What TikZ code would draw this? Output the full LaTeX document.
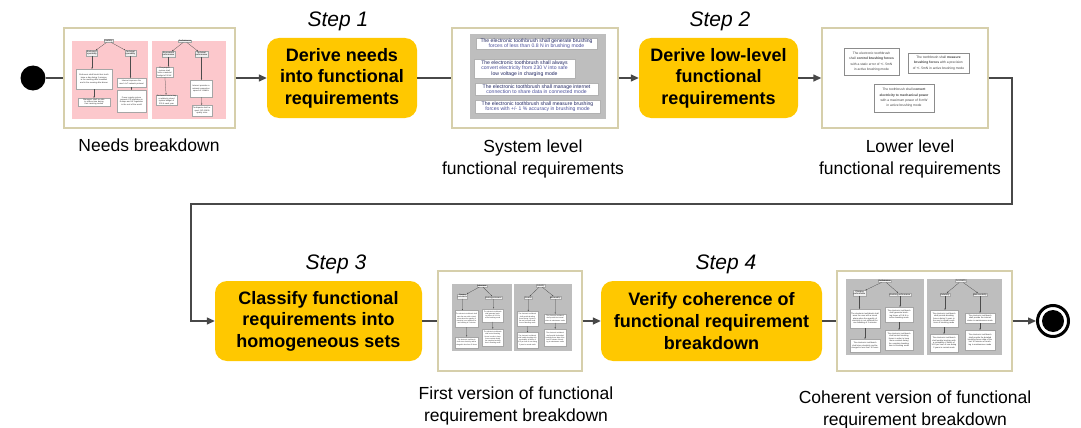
\documentclass[tikz,border=0pt]{standalone}
\usepackage{fontspec}
\setmainfont{Liberation Sans}
\usetikzlibrary{arrows.meta,calc}

\definecolor{stepfill}{HTML}{FFC800}
\definecolor{framecol}{HTML}{D6CFAB}
\definecolor{panelgray}{HTML}{BEBEBE}
\definecolor{panelpink}{HTML}{FCC8CC}
\definecolor{linecol}{HTML}{484848}
\definecolor{txtnavy}{HTML}{1E2460}
\definecolor{txtblue}{HTML}{4A4F9A}

\tikzset{
  stepbox/.style={fill=stepfill, rounded corners=12pt, inner sep=0pt, align=center,
    font=\fontsize{18}{21.6}\selectfont\bfseries},
  steplabel/.style={font=\fontsize{21}{24}\selectfont\itshape, inner sep=0pt},
  thumb/.style={draw=framecol, line width=1.4pt, fill=white, inner sep=0pt},
  caption/.style={align=center, font=\fontsize{17.5}{22}\selectfont, inner sep=0pt},
  flow/.style={draw=linecol, line width=1.4pt},
  flowarrow/.style={flow, -{Triangle[length=8pt,width=7pt]}},
  initstate/.style={circle, fill=black, minimum size=25pt, inner sep=0pt},
  finalring/.style={circle, draw=black, line width=3pt, fill=white, minimum size=31pt, inner sep=0pt},
  finaldot/.style={circle, fill=black, minimum size=22pt, inner sep=0pt},
  graypanel/.style={fill=panelgray, inner sep=0pt},
  pinkpanel/.style={fill=panelpink, inner sep=0pt},
  minihead/.style={draw=black!35, line width=0.2pt, fill=black!6, inner sep=0.5pt,
    align=center, font=\fontsize{2.1}{2.5}\selectfont},
  minibox/.style={draw=black!35, line width=0.2pt, fill=white, inner sep=0.6pt,
    align=center, font=\fontsize{2}{2.4}\selectfont, text=black!85},
  minilink/.style={draw=black!70, line width=0.25pt, -{Triangle[length=1.3pt,width=1.1pt]}},
  sysbox/.style={draw=black!30, line width=0.3pt, fill=white, inner sep=0pt, align=center,
    font=\fontsize{5.1}{5.5}\selectfont, text=txtnavy},
  lowbox/.style={draw=black!45, line width=0.5pt, fill=white, inner sep=0pt, align=center,
    font=\fontsize{3.3}{5.4}\selectfont, text=black!75},
}

% Breakdown tree (performance / availability), local pixel coordinates
\newcommand{\reqtree}[1]{%
  \node[graypanel, minimum width=78pt, minimum height=76pt] (#1-lp) at (39,38) {};
  \node[graypanel, minimum width=75pt, minimum height=76pt] (#1-rp) at (118.5,38) {};
  \node[minihead] (#1-perf) at (38.5,2) {Performance};
  \node[minihead] (#1-chg) at (13.5,14) {Charging\\performance};
  \node[minihead] (#1-brs) at (54,15.5) {Brushing performance};
  \node[minibox, text width=28pt, minimum height=19pt] (#1-p1) at (19,39.5)
    {The electronic toothbrush shall warn the user with a visual alarm when the quantity of electricity is not sufficient for one brushing of 2 minutes};
  \node[minibox, text width=28pt, minimum height=13pt] (#1-p2) at (19,66.5)
    {The electronic toothbrush shall store electricity and be charged in less than 10 hours};
  \node[minibox, text width=26pt, minimum height=15pt] (#1-p3) at (53,35.5)
    {The electronic toothbrush shall generate brushing forces of 0.8 N in active brushing mode};
  \node[minibox, text width=26pt, minimum height=20pt] (#1-p4) at (53,61)
    {The electronic toothbrush shall control brushing forces in order to keep them constant during the complete brushing time in brushing mode};
  \node[minihead] (#1-avl) at (115,2) {Availability};
  \node[minihead] (#1-rel) at (99,15.5) {Reliability};
  \node[minihead] (#1-mnt) at (134,15.5) {Maintainability};
  \node[minibox, text width=26pt, minimum height=17pt] (#1-a1) at (98,39.5)
    {The electronic toothbrush shall provide brushing forces during 3 years in the user's normal conditions of brushing mode};
  \node[minibox, text width=26pt, minimum height=18pt] (#1-a2) at (98,64)
    {The electronic toothbrush shall enable brushing with a probability of failure of 10-6 per hour of use during 2 years in normal mode};
  \node[minibox, text width=28pt, minimum height=10pt] (#1-a3) at (134,39)
    {The electronic toothbrush shall provide the internal states in maintenance mode};
  \node[minibox, text width=28pt, minimum height=20pt] (#1-a4) at (134,61)
    {The electronic toothbrush shall provide the detailed brushing forces data of the last 10 minutes of brushing in maintenance mode};
  \draw[minilink] (#1-perf) -- (#1-chg);
  \draw[minilink] (#1-perf) -- (#1-brs);
  \draw[minilink] (#1-chg) -- (#1-chg |- #1-p1.north);
  \draw[minilink] (#1-p1) -- (#1-p2);
  \draw[minilink] (#1-brs) -- (#1-brs |- #1-p3.north);
  \draw[minilink] (#1-p3) -- (#1-p4);
  \draw[minilink] (#1-avl) -- (#1-rel);
  \draw[minilink] (#1-avl) -- (#1-mnt);
  \draw[minilink] (#1-rel) -- (#1-rel |- #1-a1.north);
  \draw[minilink] (#1-a1) -- (#1-a2);
  \draw[minilink] (#1-mnt) -- (#1-mnt |- #1-a3.north);
  \draw[minilink] (#1-a3) -- (#1-a4);
}

\begin{document}
\begin{tikzpicture}[x=1pt, y=-1pt]
\useasboundingbox (0,0) rectangle (1081,428);

% ---------- main flow ----------
\node[initstate] (start) at (33,78) {};
\node[thumb, minimum width=171pt, minimum height=100pt] (needs) at (149.5,78) {};
\node[stepbox, minimum width=150pt, minimum height=80pt] (step1) at (342,78)
  {Derive needs\\into functional\\requirements};
\node[thumb, minimum width=166pt, minimum height=100pt] (sysreq) at (535,78) {};
\node[stepbox, minimum width=159pt, minimum height=80pt] (step2) at (718.5,78)
  {Derive low-level\\functional\\requirements};
\node[thumb, minimum width=166pt, minimum height=100pt] (lowreq) at (905,78) {};
\node[stepbox, minimum width=207pt, minimum height=80pt] (step3) at (318.5,321)
  {Classify functional\\requirements into\\homogeneous sets};
\node[thumb, minimum width=144pt, minimum height=100pt] (firstver) at (510,321) {};
\node[stepbox, minimum width=221pt, minimum height=80pt] (step4) at (711.5,321)
  {Verify coherence of\\functional requirement\\breakdown};
\node[thumb, minimum width=175pt, minimum height=100pt] (coherent) at (924.5,321) {};
\node[finalring] (finish) at (1053,321) {};
\node[finaldot] (finishdot) at (finish) {};

% step titles
\node[steplabel, anchor=base] (title1) at (338,27) {Step 1};
\node[steplabel, anchor=base] (title2) at (720,27) {Step 2};
\node[steplabel, anchor=base] (title3) at (336,269) {Step 3};
\node[steplabel, anchor=base] (title4) at (726,269) {Step 4};

% captions
\node[caption, anchor=north] (capneeds) at (149,139) {Needs breakdown};
\node[caption, anchor=north] (capsys) at (533,139.5) {System level\\functional requirements};
\node[caption, anchor=north] (caplow) at (910,139.5) {Lower level\\functional requirements};
\node[caption, anchor=north] (capfirst) at (516,386.5) {First version of functional\\requirement breakdown};
\node[caption, anchor=north] (capcoh) at (915,390.5) {Coherent version of functional\\requirement breakdown};

% connectors
\draw[flow] (start) -- (needs);
\draw[flowarrow] (needs) -- (step1);
\draw[flow] (step1) -- (sysreq);
\draw[flowarrow] (sysreq) -- (step2);
\draw[flowarrow] (step2) -- (lowreq);
\coordinate (bendR) at (1012,204);
\coordinate (bendL) at (191,204);
\draw[flowarrow] (lowreq.east) -- (lowreq.east -| bendR) -- (bendR) -- (bendL)
  -- (bendL |- step3.west) -- (step3.west);
\draw[flow] (step3) -- (firstver);
\draw[flowarrow] (firstver) -- (step4);
\draw[flow] (step4) -- (coherent);
\draw[flowarrow] (coherent) -- (finish);

% ---------- needs breakdown ----------
\node[pinkpanel, minimum width=76pt, minimum height=78pt] (needsL) at (110,80) {};
\node[pinkpanel, minimum width=74pt, minimum height=78pt] (needsR) at (189,80) {};
\node[minihead] (nU) at (108.5,41) {Usability};
\node[minihead] (nUe) at (92,53) {End-users'\\operability};
\node[minihead] (nUt) at (130.5,53) {Technical\\operability};
\node[minibox, text width=34pt, minimum height=20pt] (nU1) at (94,79)
  {End-users shall brush their teeth twice a day during 2 minutes, in the morning after breakfast and in the evening after dinner};
\node[minibox, text width=30pt, minimum height=8pt] (nU2) at (94,102)
  {Managers shall be able to reduce time during their morning routine};
\node[minibox, text width=27pt, minimum height=9pt] (nU3) at (131.5,82.5)
  {Internet improves the user's IoT network protocol};
\node[minibox, text width=27pt, minimum height=22pt] (nU4) at (131.5,101)
  {Power supply system respects CE regulation in Europe and UL regulation in the rest of the world};
\node[minihead] (nP) at (185,41) {Performance};
\node[minihead] (nPe) at (168.5,54) {Economical\\performance};
\node[minihead] (nPt) at (201.5,54) {Technical\\performance};
\node[minibox, text width=16pt, minimum height=10pt] (nP1) at (164.5,72)
  {The project system shall have a material budget of 50 k€};
\node[minibox, text width=20pt, minimum height=10pt] (nP2) at (166.5,100)
  {End-users use to buy a relatively priced system budget of 200 € each year};
\node[minibox, text width=21pt, minimum height=17pt] (nP3) at (201,88.5)
  {Internet provides a minimal connection speed of 1 Mbit/s};
\node[minibox, text width=19pt, minimum height=11pt] (nP4) at (202,110.5)
  {Toothpaste shall respect ISO 11609 quality rules};
\draw[minilink] (nU) -- (nUe);
\draw[minilink] (nU) -- (nUt);
\draw[minilink] (nUe) -- (nUe |- nU1.north);
\draw[minilink] (nU1) -- (nU2);
\draw[minilink] (nUt) -- (nUt |- nU3.north);
\draw[minilink] (nU3) -- (nU4);
\draw[minilink] (nP) -- (nPe);
\draw[minilink] (nP) -- (nPt);
\draw[minilink] (nPe) -- (nPe |- nP1.north);
\draw[minilink] (nP1) -- (nP2);
\draw[minilink] (nPt) -- (nPt |- nP3.north);
\draw[minilink] (nP3) -- (nP4);

% ---------- system level requirements ----------
\node[graypanel, minimum width=136pt, minimum height=85pt] (sysPanel) at (538,76.5) {};
\node[sysbox, minimum width=121pt, minimum height=11pt] (sys1) at (536.5,43.5)
  {The electronic toothbrush shall generate brushing\\\textcolor{txtblue}{forces of less than 0.8 N in brushing mode}};
\node[sysbox, minimum width=101pt, minimum height=19pt] (sys2) at (524.5,68.5)
  {The electronic toothbrush shall always\\\textcolor{txtblue}{convert electricity from 230 V into safe}\\low voltage in charging mode};
\node[sysbox, minimum width=123pt, minimum height=12pt] (sys3) at (536.5,89)
  {The electronic toothbrush shall manage internet\\\textcolor{txtblue}{connection to share data in connected mode}};
\node[sysbox, minimum width=125pt, minimum height=13pt] (sys4) at (537.5,106.5)
  {The electronic toothbrush shall measure brushing\\\textcolor{txtblue}{forces with +/- 1 \% accuracy in brushing mode}};

% ---------- lower level requirements ----------
\node[lowbox, minimum width=55pt, minimum height=27pt] (low1) at (871.5,61.5)
  {The electronic toothbrush\\shall \textbf{control brushing forces}\\with a static error of +/- 5mN\\in active brushing mode};
\node[lowbox, minimum width=61pt, minimum height=20pt] (low2) at (938.5,63)
  {The toothbrush shall \textbf{measure}\\\textbf{brushing forces} with a precision\\of +/- 5mN in active brushing mode};
\node[lowbox, minimum width=60pt, minimum height=28pt] (low3) at (904,98)
  {The toothbrush shall \textbf{convert}\\\textbf{electricity to mechanical power}\\with a maximum power of 8 mW\\in active brushing mode};

% ---------- first and coherent breakdowns ----------
\begin{scope}[shift={(452,284)}, xscale=0.77, yscale=0.88, transform shape]
  \reqtree{fv}
\end{scope}
\begin{scope}[shift={(846,279)}]
  \reqtree{cv}
\end{scope}

\end{tikzpicture}
\end{document}
